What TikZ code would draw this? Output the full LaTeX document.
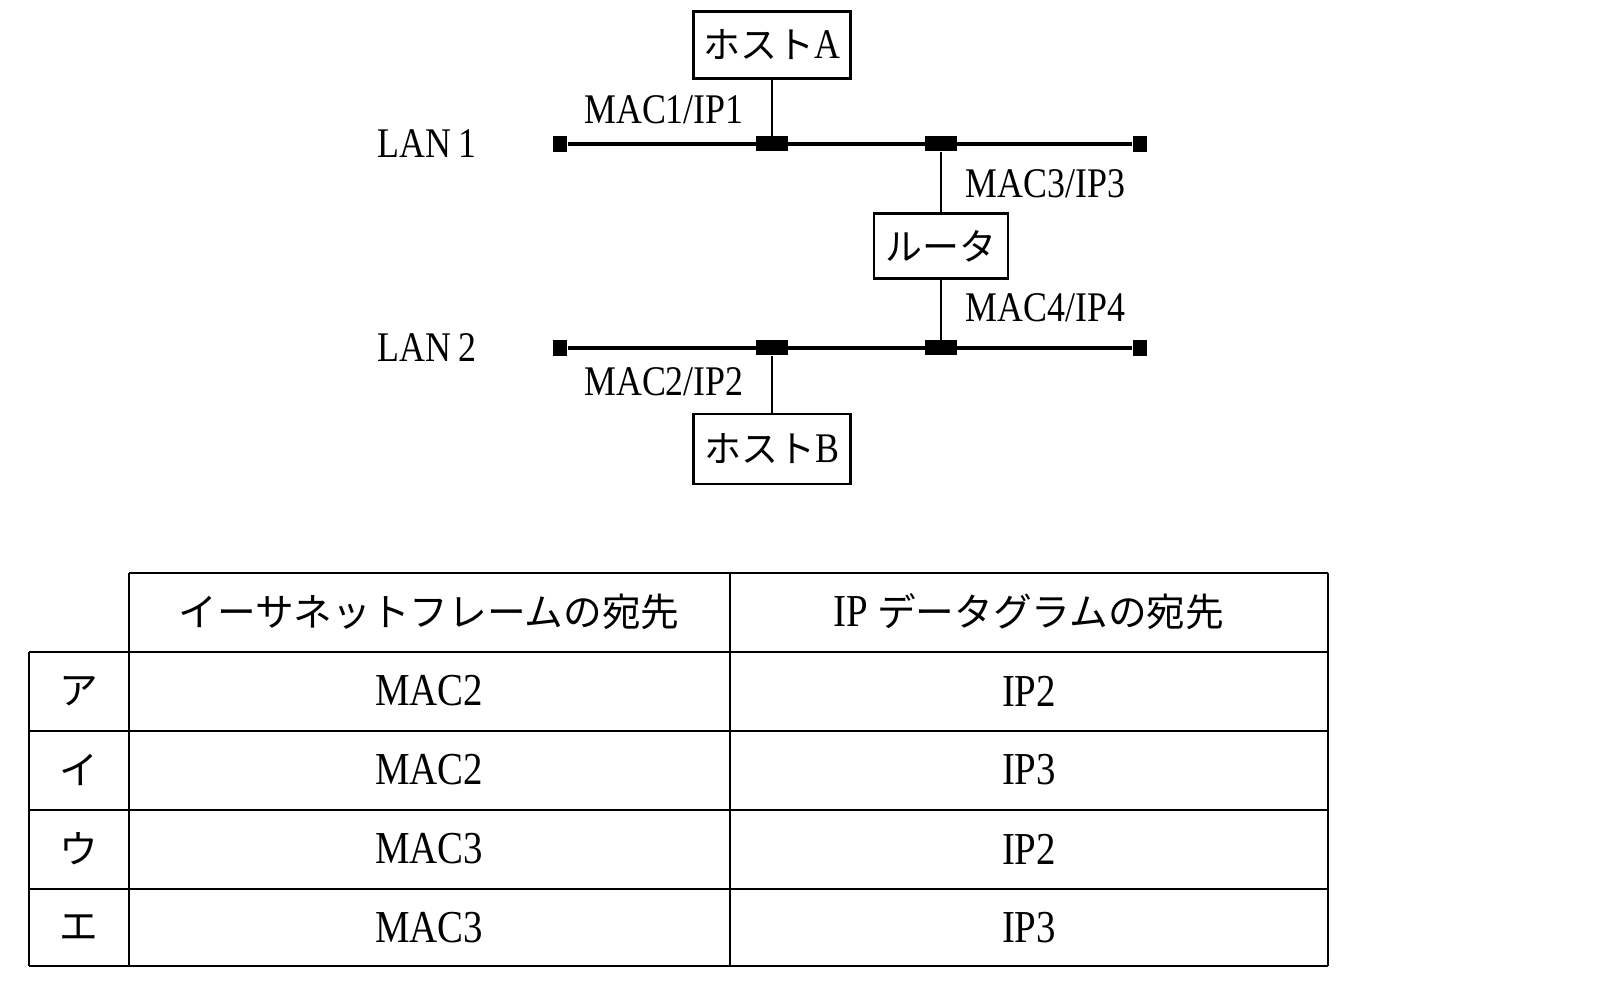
\documentclass[tikz,border=0pt]{standalone}
\usepackage{fontspec}
\setmainfont[FakeStretch=0.85]{Liberation Serif}
\newfontfamily\jp{Noto Sans CJK JP}
\usetikzlibrary{positioning}

\begin{document}
\begin{tikzpicture}[x=0.01cm,y=-0.01cm,
    box/.style={draw,line width=0.65pt,inner sep=0,font=\fontsize{12}{14}\selectfont},
    tap/.style={fill=black,inner sep=0,minimum width=0.32cm,minimum height=0.15cm},
    term/.style={fill=black,inner sep=0,minimum width=0.14cm,minimum height=0.16cm},
    lbl/.style={inner sep=0,font=\fontsize{12}{14}\selectfont},
    cell/.style={font=\fontsize{13}{15}\selectfont},
    head/.style={font=\jp\fontsize{11}{13}\selectfont},
    bus/.style={line width=1.1pt},
    wire/.style={line width=0.65pt},
    grid/.style={line width=0.8pt}]

  \useasboundingbox (0,0) rectangle (1600,986);

  % hosts and router
  \node[box,minimum width=1.57cm,minimum height=0.67cm] (hostA) at (772,45)
    {{\jp\fontsize{10.5}{12}\selectfont ホスト}A};
  \node[box,minimum width=1.57cm,minimum height=0.70cm] (hostB) at (772,449)
    {{\jp\fontsize{10.5}{12}\selectfont ホスト}B};
  \node[box,minimum width=1.34cm,minimum height=0.65cm] (router) at (941,246)
    {{\jp\fontsize{10.5}{12}\selectfont ルータ}};

  % LAN segments
  \node[term] (lan1w) at (560,144) {};
  \node[term] (lan1e) at (1140,144) {};
  \node[term] (lan2w) at (560,348) {};
  \node[term] (lan2e) at (1140,348) {};
  \draw[bus] (lan1w) -- (lan1e);
  \draw[bus] (lan2w) -- (lan2e);
  \node[tap] (tapA) at (772,144) {};
  \node[tap] (tapR1) at (941,144) {};
  \node[tap] (tapR2) at (941,348) {};
  \node[tap] (tapB) at (772,348) {};

  \path[wire]
    (hostA) edge (tapA)
    (router) edge (tapR1)
             edge (tapR2)
    (hostB) edge (tapB);

  % labels
  \node[lbl] (lan1) at (427,144) {LAN\,1};
  \node[lbl] (lan2) at (427,348) {LAN\,2};
  \node[lbl] (mac1) at (664,110) {MAC1/IP1};
  \node[lbl] (mac2) at (664,382) {MAC2/IP2};
  \node[lbl,anchor=west] (mac3) at (965,184) {MAC3/IP3};
  \node[lbl,anchor=west] (mac4) at (965,308) {MAC4/IP4};

  % table
  \draw[grid] (129,573) -- (1328,573);
  \foreach \y in {652,731,810,889,966}
    \draw[grid] (29,\y) -- (1328,\y);
  \draw[grid] (29,652) -- (29,966);
  \foreach \x in {129,730,1328}
    \draw[grid] (\x,573) -- (\x,966);

  \node[head] (hmac) at (429,612) {イーサネットフレームの宛先};
  \node[head] (hip) at (1029,612)
    {{\rmfamily\fontsize{13}{15}\selectfont IP} データグラムの宛先};

  \foreach \k/\m/\i [count=\r] in {ア/MAC2/IP2,イ/MAC2/IP3,ウ/MAC3/IP2,エ/MAC3/IP3} {
    \node[head] (k\r) at (79,612+79*\r) {\k};
    \node[cell] (m\r) at (429,612+79*\r) {\m};
    \node[cell] (i\r) at (1029,612+79*\r) {\i};
  }

\end{tikzpicture}
\end{document}
